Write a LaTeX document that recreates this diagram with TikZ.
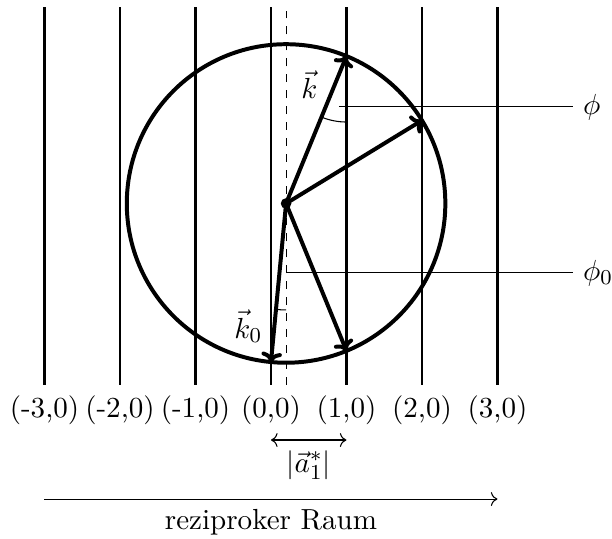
\documentclass[tikz,border=0pt,11pt]{standalone}
\usepackage{amsmath,amssymb}
\usepackage{tikz}
\usetikzlibrary{arrows.meta}

\begin{document}
\begin{tikzpicture}[
    gitter/.style={line width=1pt},
    vektor/.style={-{To[scale=0.75]}, line width=1.5pt},
    hilfs/.style={thin},
    >=To
]
\useasboundingbox (-3.589,-2.331) rectangle (4.517,4.795);

% Gitterstaebe
\foreach \i in {-3,...,3} {
    \draw[gitter] (\i,-0.3) -- (\i,4.7) node[pos=0, below] (g\i) {(\i,0)};
}
\draw[hilfs, dashed] (0.2,-0.3) -- (0.2,4.7);

% Ewald-Kugel
\coordinate (M) at (0.2,2.1);
\coordinate (O) at (0,0);
\coordinate (K1) at (1,4.0519);
\coordinate (K2) at (2,3.2);
\coordinate (K3) at (1,0.1481);
\draw[line width=1.5pt] (M) circle (2.1095);
\draw[vektor] (M) -- (O);
\draw[vektor] (M) -- (K1);
\draw[vektor] (M) -- (K2);
\draw[vektor] (M) -- (K3);
\fill (M) circle (2pt);

\node (k) at (0.51,3.675) {$\vec{k}$};
\node (k0) at (-0.3,0.47) {$\vec{k}_0$};

% Winkel
\draw[hilfs] (K1) ++(247.71:0.873) arc[start angle=247.71, end angle=270, radius=0.873];
\draw[hilfs] (M) ++(264.56:1.41) arc[start angle=264.56, end angle=270, radius=1.41];
\coordinate (P) at (0.9,3.38);
\coordinate (P0) at (0.2,1.18);
\draw[hilfs] (P) -- (4,3.38) node[right] (phi) {$\phi$};
\draw[hilfs] (P0) -- (4,1.18) node[right] (phi0) {$\phi_0$};

% Achsen unten
\coordinate (A1) at (0,-1.033);
\coordinate (A2) at (1,-1.033);
\draw[hilfs, <->] (A1) -- node[below] (abst) {$|\vec{a}_1^*|$} (A2);
\coordinate (R1) at (-3,-1.815);
\coordinate (R2) at (3,-1.815);
\draw[hilfs, ->] (R1) -- node[below] (raum) {reziproker Raum} (R2);
\end{tikzpicture}
\end{document}
